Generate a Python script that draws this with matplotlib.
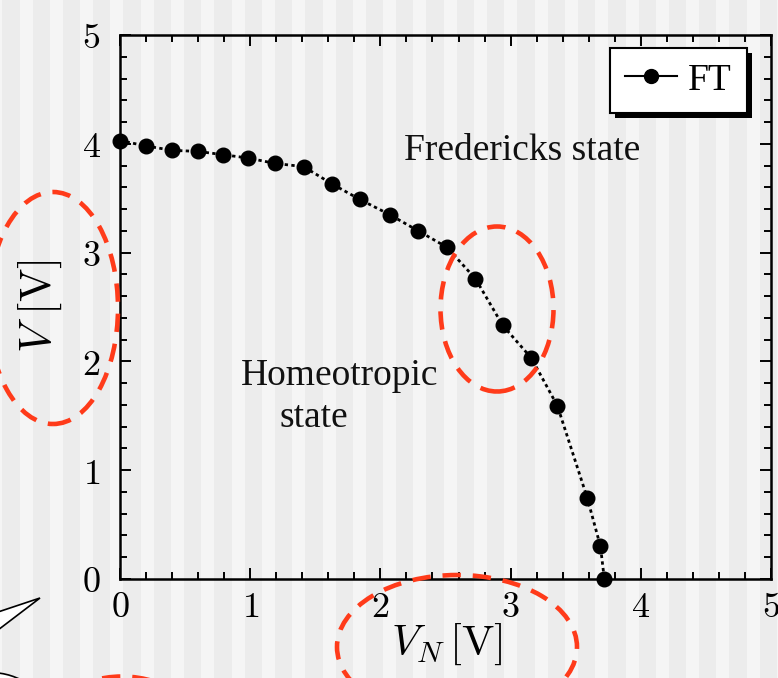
import numpy as np
import matplotlib
matplotlib.use("Agg")
import matplotlib.pyplot as plt
from matplotlib.patches import Ellipse, Rectangle, Polygon
from matplotlib.lines import Line2D
from matplotlib.ticker import MultipleLocator, FuncFormatter

# ---- data ----
vn = [0.00, 0.20, 0.40, 0.60, 0.79, 0.98, 1.19, 1.41, 1.63, 1.84,
      2.07, 2.29, 2.51, 2.73, 2.94, 3.16, 3.36, 3.59, 3.69, 3.72]
v = [4.03, 3.98, 3.94, 3.93, 3.90, 3.87, 3.82, 3.79, 3.63, 3.49,
     3.35, 3.20, 3.05, 2.76, 2.33, 2.03, 1.59, 0.74, 0.30, 0.00]
series_label = "FT"
region_labels = ["Fredericks state", "Homeotropic", "state"]
xlabel = r"$V_N\,[\mathrm{V}]$"
ylabel = r"$V\,\,[\mathrm{V}]$"

W, H = 778, 678
plt.rcParams["mathtext.fontset"] = "cm"
fig = plt.figure(figsize=(W / 100, H / 100), dpi=100)
fig.patch.set_facecolor("#ececec")

def fx(x):
    return x / W

def fy(y):
    return 1 - y / H

# striped background (decoration)
for x0 in np.arange(19.5 - 30.3 * 2, W + 30, 30.3):
    fig.patches.append(Rectangle((fx(x0), 0), 13 / W, 1, transform=fig.transFigure,
                                 facecolor="#f5f5f5", edgecolor="none", zorder=-10))

ax = fig.add_axes([fx(120), fy(579), (771 - 120) / W, (579 - 35) / H])
ax.patch.set_alpha(0)

ax.plot(vn, v, color="black", lw=2.0, linestyle=(0, (1.2, 1.2)),
        marker="o", markersize=10.5, markeredgecolor="black", markerfacecolor="black",
        clip_on=False, zorder=5)

ax.set_xlim(0, 5)
ax.set_ylim(0, 5)
ax.xaxis.set_major_locator(MultipleLocator(1))
ax.xaxis.set_minor_locator(MultipleLocator(0.2))
ax.yaxis.set_major_locator(MultipleLocator(1))
ax.yaxis.set_minor_locator(MultipleLocator(0.2))
fmt = FuncFormatter(lambda val, pos: f"${val:g}$")
ax.xaxis.set_major_formatter(fmt)
ax.yaxis.set_major_formatter(fmt)
ax.tick_params(which="both", direction="in", top=True, right=True, width=1.4,
               colors="black", labelsize=26)
ax.tick_params(which="major", length=8)
ax.tick_params(which="minor", length=5)
ax.tick_params(axis="x", which="major", pad=8)
ax.tick_params(axis="y", which="major", pad=14)
for s in ax.spines.values():
    s.set_linewidth(1.8)

ax.set_xlabel(xlabel, fontsize=31)
ax.xaxis.label.set_va("top")
ax.xaxis.set_label_coords((447 - 120) / 651, (579 - 622) / 544)
ax.set_ylabel(ylabel, fontsize=32)
ax.yaxis.label.set_va("center")
ax.yaxis.set_label_coords((40 - 120) / 651, (579 - 306) / 544)

serif = ["Liberation Serif", "DejaVu Serif"]
ax.text((522 - 120) / 651, (579 - 160) / 544, region_labels[0], transform=ax.transAxes,
        ha="center", va="baseline", fontsize=27, family=serif, color="#111111")
ax.text((340 - 120) / 651, (579 - 385) / 544, region_labels[1], transform=ax.transAxes,
        ha="center", va="baseline", fontsize=27, family=serif, color="#111111")
ax.text((314 - 120) / 651, (579 - 427) / 544, region_labels[2], transform=ax.transAxes,
        ha="center", va="baseline", fontsize=27, family=serif, color="#111111")

handle = Line2D([], [], color="black", lw=1.5, marker="o", markersize=10)
leg = ax.legend([handle], [series_label], loc="upper right",
                bbox_to_anchor=((747 - 120) / 651, (579 - 48) / 544),
                borderaxespad=0, fancybox=False, framealpha=1, edgecolor="black",
                prop={"family": serif, "size": 27}, handlelength=1.4,
                handletextpad=0.3, borderpad=0.4)
leg.get_frame().set_linewidth(1.5)

# legend drop shadow
fig.canvas.draw()
bb = leg.get_window_extent().transformed(fig.transFigure.inverted())
fig.patches.append(Rectangle((bb.x0 + 5 / W, bb.y0 - 5 / H), bb.width, bb.height,
                             transform=fig.transFigure, facecolor="black",
                             edgecolor="none", zorder=-1))

# red dashed ellipses (annotations)
red = "#ff3b1a"
for cx, cy, w, h in [(53, 308, 130, 232), (497, 309, 113, 165),
                     (457, 647, 240, 144), (122, 744, 170, 135)]:
    fig.patches.append(Ellipse((fx(cx), fy(cy)), w / W, h / H, transform=fig.transFigure,
                               fill=False, edgecolor=red, lw=3.3,
                               linestyle=(0, (4, 2.6)), zorder=20))

# speech bubble fragments at the left edge
fig.patches.append(Polygon([(fx(-2), fy(612)), (fx(40), fy(598)), (fx(-2), fy(630))],
                           closed=True, transform=fig.transFigure, facecolor="white",
                           edgecolor="black", lw=1.2, zorder=15))
fig.patches.append(Ellipse((fx(-10), fy(715)), 110 / W, 85 / H, transform=fig.transFigure,
                           facecolor="white", edgecolor="black", lw=1.2, zorder=15))

fig.savefig("out.png", dpi=100, facecolor=fig.get_facecolor())
